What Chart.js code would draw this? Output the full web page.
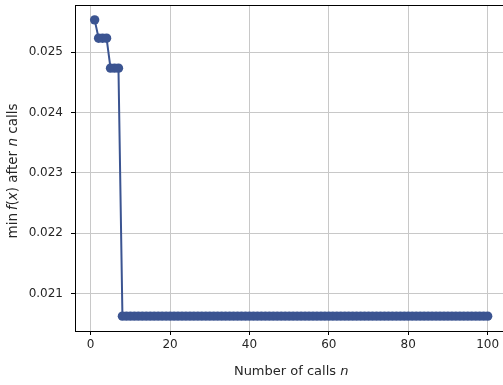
<!DOCTYPE html>
<html>
<head>
<meta charset="utf-8">
<script src="https://cdn.jsdelivr.net/npm/chart.js@4.4.1/dist/chart.umd.min.js"></script>
<style>
html,body{margin:0;padding:0;background:#fff;overflow:hidden;width:503px;height:385px;}
#wrap{width:512px;height:385px;}
</style>
</head>
<body>
<div id="wrap"><canvas id="c" width="512" height="385"></canvas></div>
<script>
// Number of calls n
const calls = [1,2,3,4,5,6,7,8,9,10,11,12,13,14,15,16,17,18,19,20,
  21,22,23,24,25,26,27,28,29,30,31,32,33,34,35,36,37,38,39,40,
  41,42,43,44,45,46,47,48,49,50,51,52,53,54,55,56,57,58,59,60,
  61,62,63,64,65,66,67,68,69,70,71,72,73,74,75,76,77,78,79,80,
  81,82,83,84,85,86,87,88,89,90,91,92,93,94,95,96,97,98,99,100];
// min f(x) after n calls
const minValues = [0.025536,0.025232,0.025232,0.025232,0.024735,0.024735,0.024735,
  0.020624,0.020624,0.020624,0.020624,0.020624,0.020624,0.020624,0.020624,0.020624,0.020624,0.020624,0.020624,0.020624,
  0.020624,0.020624,0.020624,0.020624,0.020624,0.020624,0.020624,0.020624,0.020624,0.020624,
  0.020624,0.020624,0.020624,0.020624,0.020624,0.020624,0.020624,0.020624,0.020624,0.020624,
  0.020624,0.020624,0.020624,0.020624,0.020624,0.020624,0.020624,0.020624,0.020624,0.020624,
  0.020624,0.020624,0.020624,0.020624,0.020624,0.020624,0.020624,0.020624,0.020624,0.020624,
  0.020624,0.020624,0.020624,0.020624,0.020624,0.020624,0.020624,0.020624,0.020624,0.020624,
  0.020624,0.020624,0.020624,0.020624,0.020624,0.020624,0.020624,0.020624,0.020624,0.020624,
  0.020624,0.020624,0.020624,0.020624,0.020624,0.020624,0.020624,0.020624,0.020624,0.020624,
  0.020624,0.020624,0.020624,0.020624,0.020624,0.020624,0.020624,0.020624,0.020624,0.020624];
const xTicks = [0,20,40,60,80,100];
const yTicks = [0.021,0.022,0.023,0.024,0.025];
const xLabelParts = [["Number of calls ", false], ["n", true]];
const yLabelParts = [["min", false], ["\u2009f", true], ["(", false], ["x", true], [")", false], [" after ", false], ["n", true], [" calls", false]];

const FONT = "'DejaVu Sans', sans-serif";
const LINE_COLOR = '#3b5491';

function drawParts(ctx, parts, size) {
  let total = 0;
  const widths = parts.map(([t, it]) => {
    ctx.font = (it ? 'italic ' : '') + size + 'px ' + FONT;
    const w = ctx.measureText(t).width; total += w; return w;
  });
  let x = -total / 2;
  parts.forEach(([t, it], i) => {
    ctx.font = (it ? 'italic ' : '') + size + 'px ' + FONT;
    ctx.fillText(t, x, 0);
    x += widths[i];
  });
}

const decor = {
  id: 'decor',
  afterDraw(chart) {
    const ctx = chart.ctx, a = chart.chartArea;
    ctx.save();
    ctx.strokeStyle = '#000';
    ctx.lineWidth = 1;
    ctx.strokeRect(Math.round(a.left) + 0.5, Math.round(a.top) + 0.5, Math.round(a.right - a.left), Math.round(a.bottom - a.top));
    ctx.fillStyle = '#262626';
    ctx.textBaseline = 'middle';
    ctx.textAlign = 'left';
    ctx.save();
    ctx.translate((a.left + a.right) / 2, 372);
    drawParts(ctx, xLabelParts, 13);
    ctx.restore();
    ctx.save();
    ctx.translate(13, (a.top + a.bottom) / 2 + 3);
    ctx.rotate(-Math.PI / 2);
    drawParts(ctx, yLabelParts, 13.5);
    ctx.restore();
    ctx.restore();
  }
};

new Chart(document.getElementById('c'), {
  type: 'line',
  data: {
    datasets: [{
      data: calls.map((n, i) => ({x: n, y: minValues[i]})),
      borderColor: LINE_COLOR,
      backgroundColor: LINE_COLOR,
      borderWidth: 2,
      pointRadius: 4.7,
      pointBorderWidth: 0,
      pointHoverRadius: 4.7,
      tension: 0,
      clip: false
    }]
  },
  options: {
    responsive: false,
    animation: false,
    devicePixelRatio: 1,
    layout: {padding: {top: 5, right: 3.3, left: 0, bottom: 0}},
    plugins: {legend: {display: false}, tooltip: {enabled: false}},
    scales: {
      x: {
        type: 'linear',
        min: -3.95, max: 104.95,
        afterFit(s) { s.height = 54; s.paddingLeft = 0; s.paddingRight = 0; },
        afterBuildTicks(s) { s.ticks = xTicks.map(v => ({value: v})); },
        grid: {color: '#c8c8c8', lineWidth: 1, tickColor: '#000', tickLength: 4, drawTicks: true},
        border: {color: '#000', width: 1},
        ticks: {color: '#262626', font: {family: FONT, size: 12}, padding: 3, maxRotation: 0,
          callback: v => String(v)}
      },
      y: {
        type: 'linear',
        min: 0.020378, max: 0.025782,
        afterFit(s) { s.width = 75; s.paddingTop = 0; s.paddingBottom = 0; },
        afterBuildTicks(s) { s.ticks = yTicks.map(v => ({value: v})); },
        grid: {color: '#c8c8c8', lineWidth: 1, tickColor: '#000', tickLength: 4, drawTicks: true},
        border: {color: '#000', width: 1},
        ticks: {color: '#262626', font: {family: FONT, size: 12}, padding: 8,
          callback: v => v.toFixed(3)}
      }
    }
  },
  plugins: [decor]
});
</script>
</body>
</html>
